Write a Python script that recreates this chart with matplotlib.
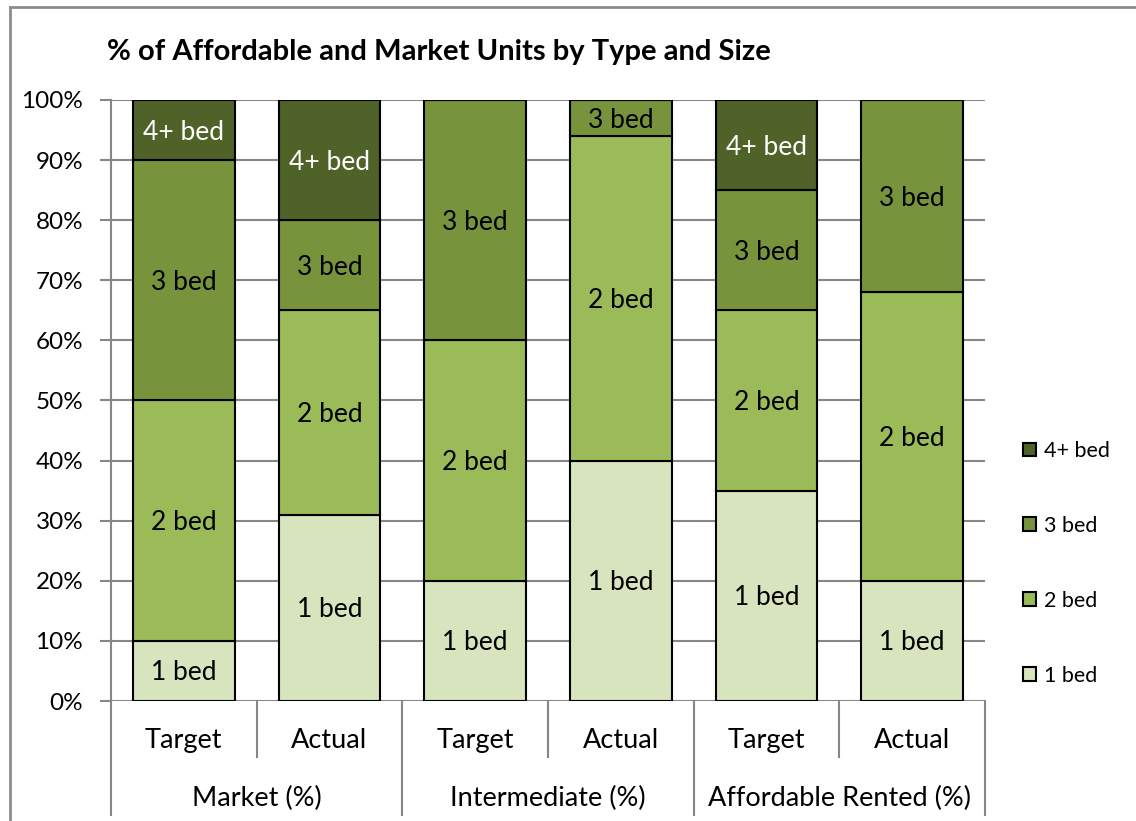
import matplotlib
matplotlib.use("Agg")
import matplotlib.pyplot as plt
from matplotlib.lines import Line2D
from matplotlib.patches import Patch
import numpy as np

plt.rcParams['font.family'] = ['Lato', 'DejaVu Sans']

# data (percent of units)
groups = ["Market (%)", "Intermediate (%)", "Affordable Rented (%)"]
bars = ["Target", "Actual", "Target", "Actual", "Target", "Actual"]
sizes = ["1 bed", "2 bed", "3 bed", "4+ bed"]
one_bed = [10, 31, 20, 40, 35, 20]
two_bed = [40, 34, 40, 54, 30, 48]
three_bed = [40, 15, 40, 6, 20, 32]
four_bed = [10, 20, 0, 0, 15, 0]

colors = ["#D7E4BD", "#9BBB59", "#77933C", "#4F6228"]
text_colors = ["black", "black", "black", "white"]
grid_col = "#878787"

fig = plt.figure(figsize=(11.36, 8.21), dpi=100)
ax = fig.add_axes([111 / 1136, 1 - 701 / 821, (985 - 111) / 1136, 601 / 821])

x = np.arange(len(bars))
bottom = np.zeros(len(bars))
series = [one_bed, two_bed, three_bed, four_bed]
for vals, col, tcol, name in zip(series, colors, text_colors, sizes):
    vals = np.array(vals, dtype=float)
    ax.bar(x, vals, 0.7, bottom=bottom, color=col, edgecolor="black",
           linewidth=1.5, zorder=3)
    for xi, v, b in zip(x, vals, bottom):
        if v > 0:
            ax.annotate(name, (xi, b + v / 2), xytext=(0, -2),
                        textcoords="offset pixels", ha="center", va="center",
                        fontsize=19, color=tcol, zorder=4)
    bottom += vals

ax.set_xlim(-0.5, len(bars) - 0.5)
ax.set_ylim(0, 100)
ax.set_yticks(np.arange(0, 101, 10))
ax.set_yticklabels([f"{v}%" for v in range(0, 101, 10)], fontsize=17.5)
ax.yaxis.grid(True, color=grid_col, linewidth=1.5, zorder=0)
ax.tick_params(axis="y", length=8, width=1.5, color=grid_col, pad=12)
ax.tick_params(axis="x", length=0, labelbottom=False)
for s in ["top", "right", "bottom"]:
    ax.spines[s].set_visible(False)
ax.spines["left"].set_color(grid_col)
ax.spines["left"].set_linewidth(1.5)

# two-level category axis
tr = ax.get_xaxis_transform()
for xi, lab in zip(x, bars):
    ax.text(xi, -0.066, lab, transform=tr, ha="center", va="center", fontsize=19.5)
for gi, g in enumerate(groups):
    ax.text(gi * 2 + 0.5, -0.162, g, transform=tr, ha="center", va="center",
            fontsize=19.5)
for b in np.arange(-0.5, len(bars), 1.0):
    major = (b + 0.5) % 2 == 0
    ax.add_line(Line2D([b, b], [0, -0.19 if major else -0.093], transform=tr,
                       color=grid_col, linewidth=1.5, clip_on=False))

# legend
handles = [Patch(facecolor=c, edgecolor="black", linewidth=1.5)
           for c in colors[::-1]]
ax.legend(handles, sizes[::-1], loc="center left",
          bbox_to_anchor=(1.021, 0.229), frameon=False, fontsize=15.5,
          handlelength=0.6, handleheight=0.6, handletextpad=0.4,
          labelspacing=2.55)

fig.text(107 / 1136, 1 - 52 / 821, "% of Affordable and Market Units by Type and Size",
         fontsize=21, fontweight="bold", ha="left", va="center")

# outer frame
fig.add_artist(Line2D([9.5 / 1136, 9.5 / 1136], [0, 1 - 7.5 / 821],
                      transform=fig.transFigure, color="#8c8c8c", linewidth=2))
fig.add_artist(Line2D([9.5 / 1136, 1], [1 - 7.5 / 821, 1 - 7.5 / 821],
                      transform=fig.transFigure, color="#8c8c8c", linewidth=2))

fig.savefig("out.png", dpi=100)
